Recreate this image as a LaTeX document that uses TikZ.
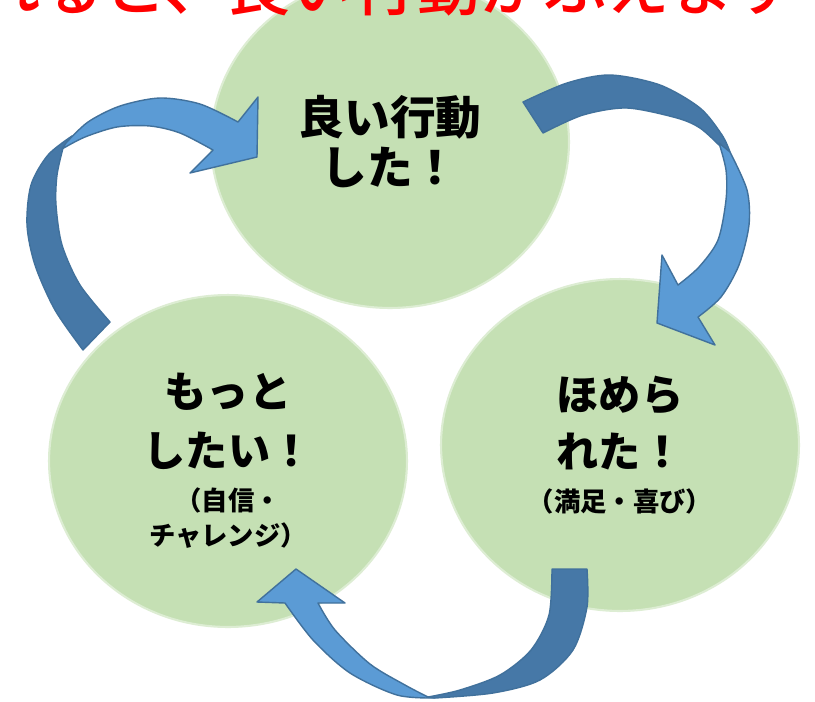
\documentclass[tikz,border=0pt]{standalone}
\usepackage{fontspec}
\newfontfamily\jpfont{Noto Sans CJK JP}
\newfontfamily\jpmedium{Noto Sans CJK JP Medium}
\usetikzlibrary{shapes.geometric}
\definecolor{leaf}{HTML}{C5E0B4}
\definecolor{leafrim}{HTML}{DDEDD3}
\definecolor{sky}{HTML}{5B9BD5}
\definecolor{deepsky}{HTML}{4678A7}
\definecolor{rim}{HTML}{41719C}
\newcommand{\smalljp}{\fontsize{15}{18}\selectfont}

\begin{document}
\begin{tikzpicture}[x=0.02cm, y=-0.02cm,
    bubble/.style={ellipse, fill=leaf, draw=leafrim, line width=1.2pt,
      minimum width=7.16cm, minimum height=6.64cm, inner sep=0pt, align=center,
      font=\jpfont\bfseries\fontsize{24}{28.5}\selectfont},
    front/.style={fill=sky, draw=rim, line width=0.8pt, line join=round},
    back/.style={fill=deepsky, draw=rim, line width=0.8pt, line join=round}]
       % \draw[help lines, step=50] (0, 0) grid (815, 701);
       \useasboundingbox (0, 0) rectangle (815, 701);
       \clip (0, 0) rectangle (815, 701);
       \fill [white] (0, 0) rectangle (815, 701);
       \node [bubble, font=\jpfont\bfseries\fontsize{26}{28.5}\selectfont] (act) at (390, 142) {良い行動\\した！};
       \node [bubble] (more) at (228, 461) {もっと\\[5pt]したい！\\[-3.5pt]\smalljp （自信・\\[-8.6pt]\smalljp チャレンジ）};
       \node [bubble] (praise) at (620, 445) {ほめら\\[4.4pt]れた！\\[-3.7pt]\smalljp （満足・喜び）};
       % more -> act
       \filldraw [back] plot [smooth] coordinates {(83, 350) (55, 310) (35, 265) (27, 225) (31, 185) (48, 155) (72, 136)}
         -- plot [smooth] coordinates {(63, 148) (57, 175) (56, 205) (62, 245) (80, 285) (110, 322)} -- cycle;
       \filldraw [front] plot [smooth] coordinates {(66, 143) (88, 122) (120, 106) (160, 98) (200, 104) (238, 122)}
         -- (258, 97) -- (257, 157) -- (190, 173)
         -- plot [smooth] coordinates {(213, 150) (180, 133) (150, 126) (117, 127) (85, 137) (62, 149)} -- cycle;
       % act -> praise
       \filldraw [back] plot [smooth] coordinates {(523, 102) (567, 83) (610, 75) (660, 85) (700, 108) (722, 135) (730, 152)}
         -- plot [smooth] coordinates {(719, 145) (700, 128) (677, 118) (627, 108) (583, 115) (543, 133)} -- cycle;
       \filldraw [front] plot [smooth] coordinates {(719, 143) (726, 170) (726, 200) (718, 240) (699, 267) (678, 285)}
         -- (662, 255) -- (657, 323) -- (715, 345)
         -- plot [smooth] coordinates {(698, 317) (721, 297) (739, 265) (749, 225) (747, 190) (730, 152)} -- cycle;
       % praise -> more
       \filldraw [back] (552, 569) -- plot [smooth] coordinates {(587, 569) (587, 607) (573, 650) (540, 680) (493, 693) (435, 698)}
         -- plot [smooth] coordinates {(428, 697) (460, 690) (500, 675) (531, 650) (549, 615) (552, 569)} -- cycle;
       \filldraw [front] plot [smooth] coordinates {(435, 698) (397, 695) (350, 673) (313, 640) (285, 603)}
         -- (257, 602) -- (296, 569) -- (345, 603)
         -- plot [smooth] coordinates {(318, 603) (335, 630) (370, 664) (405, 685) (428, 697)} -- cycle;
       \node [anchor=base, text=red, font=\jpmedium\fontsize{36}{40}\selectfont] (title) at (292, 10) {ほめられると、良い行動がふえます};
   \end{tikzpicture}
\end{document}
